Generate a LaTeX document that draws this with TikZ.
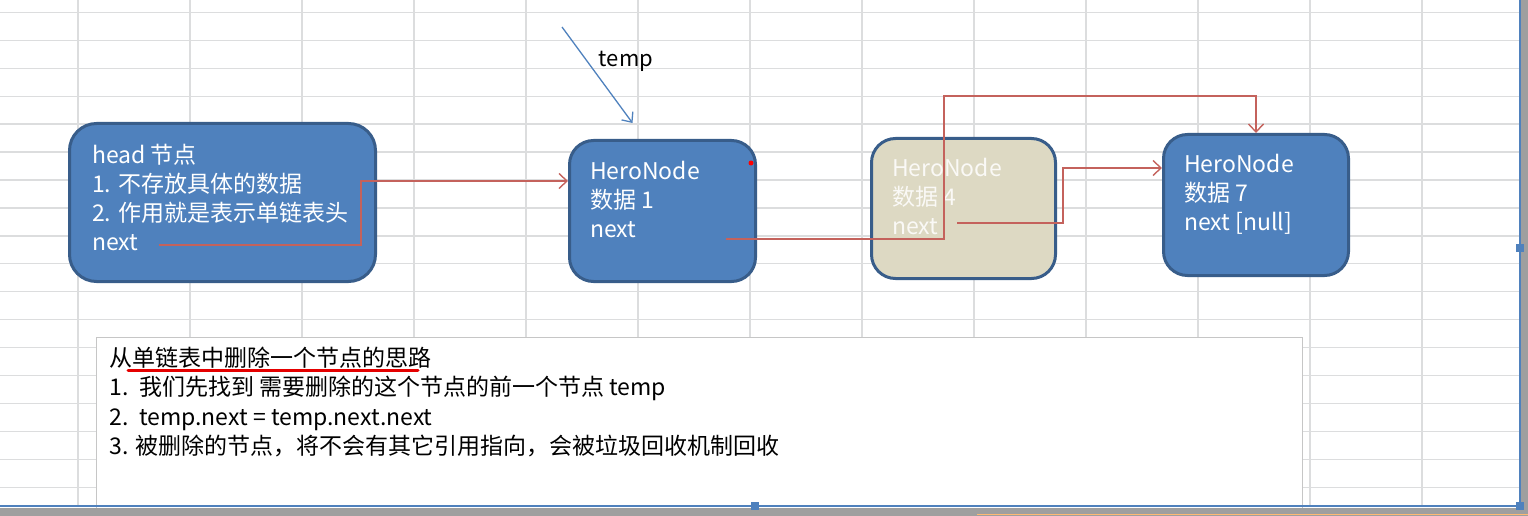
\documentclass[tikz,border=0pt]{standalone}
\usepackage{fontspec}
\setmainfont{Noto Sans CJK SC}
\usepackage{tikz}
\usetikzlibrary{calc,positioning,arrows.meta}
\definecolor{boxblue}{HTML}{4F81BD}
\definecolor{boxline}{HTML}{385D8A}
\definecolor{boxtan}{HTML}{DDD9C3}
\definecolor{linkred}{HTML}{C4625C}
\definecolor{gridgray}{HTML}{DCDDDE}
\newcommand{\boxthick}{3pt}
\newcommand{\txtsize}{\fontsize{23}{29}\selectfont}

\tikzset{
  herobox/.style={draw=boxline, line width=\boxthick, fill=boxblue, rounded corners=24pt, inner sep=0pt},
  herotext/.style={text=white, align=left, inner sep=0pt, font=\txtsize},
  link/.style={linkred, line width=1.4pt, -{Straight Barb[length=8pt,width=15pt]}},
  tmparrow/.style={boxblue, line width=1.3pt, -{Straight Barb[length=8pt,width=14pt]}},
}

\begin{document}
\begin{tikzpicture}[x=1pt,y=-1pt]
\useasboundingbox (0,0) rectangle (1528,516);
%grid
\foreach \gx in {0,...,12}
  \draw[gridgray, line width=1.2pt] (78+112*\gx,0) -- (78+112*\gx,506);
\foreach \gy in {0,...,17}
  \draw[gridgray, line width=1.2pt] (0,12.3+27.95*\gy) -- (1520,12.3+27.95*\gy);
%nodes
\node[herobox, rounded corners=27pt] (head) at (222.5,202.5) [minimum width=306pt, minimum height=158pt] {};
\node[herotext, below right=22pt and 24pt of head.north west] (headtxt) {head 节点\\1. 不存放具体的数据\\2. 作用就是表示单链表头\\next};
\node[herobox] (n1) at (662.5,211) [minimum width=186pt, minimum height=141pt] {};
\node[herotext, below right=22pt and 22pt of n1.north west] (n1txt) {HeroNode\\数据 1\\next};
\node[herobox, fill=boxtan] (n4) at (963.5,208.5) [minimum width=184pt, minimum height=140pt] {};
\node[herotext, text=white!85!boxtan, below right=21pt and 22pt of n4.north west] (n4txt) {HeroNode\\数据 4\\next};
\node[herobox] (n7) at (1256,205) [minimum width=185pt, minimum height=141pt] {};
\node[herotext, below right=21pt and 22pt of n7.north west] (n7txt) {HeroNode\\数据 7\\next [null]};
\fill[red] (751,163) circle (2.5pt);
%next pointers
\coordinate (headnext) at ($(head.north west)+(91,123)$);
\coordinate (n1next) at ($(n1.north west)+(158,100)$);
\coordinate (n4next) at ($(n4.north west)+(87,86)$);
\draw[link] (headnext) -- ++(202,0) |- ($(n1.west)+(0,-30)$);
\draw[link] (n1next) -- ++(218,0) -- ++(0,-143) -| (n7.north);
\draw[link] (n4next) -- ++(106,0) |- ($(n7.west)+(0,-37)$);
%temp
\coordinate (tmpfrom) at (562,27);
\draw[tmparrow] (tmpfrom) -- ($(n1.north)+(-30,-16)$);
\node[font=\fontsize{22}{26}\selectfont] (tmplabel) at (626,61) {temp};
%note box
\node[draw=gray!45, line width=1pt, fill=white, inner sep=0pt] (note) at (699,432) [minimum width=1206pt, minimum height=190pt] {};
\node[align=left, inner sep=0pt, font=\fontsize{23}{29.5}\selectfont, below right=10pt and 14pt of note.north west] (notetxt) {从单链表中删除一个节点的思路\\1.\ \ 我们先找到 需要删除的这个节点的前一个节点 temp\\2.\ \ temp.next = temp.next.next\\3. 被删除的节点，将不会有其它引用指向，会被垃圾回收机制回收};
\draw[red!90!black, line width=3pt, line cap=round] (128,370) -- (418,370);
%selection frame
\fill[gray!75] (0,508) rectangle (1528,516);
\fill[gray!75] (1521,0) rectangle (1528,516);
\draw[orange!55, line width=1.5pt] (977,514.5) -- (1528,514.5);
\draw[boxblue, line width=2pt] (1520,0) -- (1520,506) -- (0,506);
\fill[boxblue] (1516,244) rectangle +(8,8);
\fill[boxblue] (1516,502) rectangle +(8,8);
\fill[boxblue] (751,502) rectangle +(8,8);
\end{tikzpicture}
\end{document}
